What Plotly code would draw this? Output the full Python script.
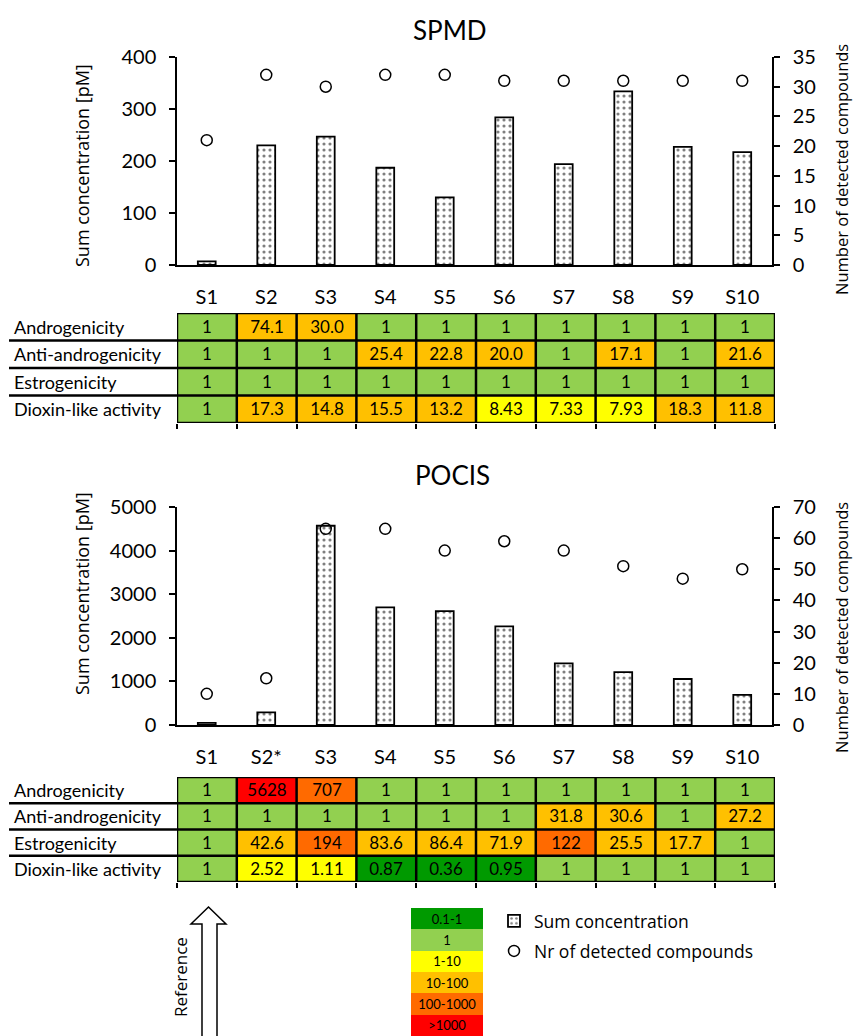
import plotly.graph_objects as go

# ---------------- data ----------------
sites_spmd = ["S1", "S2", "S3", "S4", "S5", "S6", "S7", "S8", "S9", "S10"]
sites_pocis = ["S1", "S2*", "S3", "S4", "S5", "S6", "S7", "S8", "S9", "S10"]

spmd_sum_conc = [7, 230, 247, 187, 130, 284, 194, 334, 227, 217]
spmd_n_compounds = [21, 32, 30, 32, 32, 31, 31, 31, 31, 31]

pocis_sum_conc = [50, 290, 4570, 2700, 2610, 2260, 1415, 1215, 1055, 690]
pocis_n_compounds = [10, 15, 63, 63, 56, 59, 56, 51, 47, 50]

endpoints = ["Androgenicity", "Anti-androgenicity", "Estrogenicity", "Dioxin-like activity"]

spmd_table = [
    ["1", "74.1", "30.0", "1", "1", "1", "1", "1", "1", "1"],
    ["1", "1", "1", "25.4", "22.8", "20.0", "1", "17.1", "1", "21.6"],
    ["1", "1", "1", "1", "1", "1", "1", "1", "1", "1"],
    ["1", "17.3", "14.8", "15.5", "13.2", "8.43", "7.33", "7.93", "18.3", "11.8"],
]
pocis_table = [
    ["1", "5628", "707", "1", "1", "1", "1", "1", "1", "1"],
    ["1", "1", "1", "1", "1", "1", "31.8", "30.6", "1", "27.2"],
    ["1", "42.6", "194", "83.6", "86.4", "71.9", "122", "25.5", "17.7", "1"],
    ["1", "2.52", "1.11", "0.87", "0.36", "0.95", "1", "1", "1", "1"],
]

class_labels = ["0.1-1", "1", "1-10", "10-100", "100-1000", ">1000"]
class_colors = ["#009A00", "#92D050", "#FFFF00", "#FFC000", "#FF6A00", "#FF0000"]

# ---------------- helpers ----------------
W, H = 854, 1036
def px(x):
    return x / W
def py(y):
    return 1 - y / H

def level(v):
    if v < 1:
        return 0
    if v == 1:
        return 1
    if v <= 10:
        return 2
    if v <= 100:
        return 3
    if v <= 1000:
        return 4
    return 5

n = len(class_colors)
colorscale = []
for i, c in enumerate(class_colors):
    colorscale.append([i / n, c])
    colorscale.append([(i + 1) / n, c])

FONT = "Lato, Carlito, Calibri, sans-serif"
FONT2 = "Open Sans, sans-serif"

fig = go.Figure()

bar_style = dict(
    color="white",
    line=dict(color="black", width=1.8),
    pattern=dict(shape=".", fgcolor="black", bgcolor="white", size=6, solidity=0.22),
)
circ_style = dict(symbol="circle-open", size=11, color="black", line=dict(color="black", width=1.5))

# SPMD
fig.add_trace(go.Bar(x=sites_spmd, y=spmd_sum_conc, xaxis="x", yaxis="y", width=0.3,
                     marker=bar_style, name="Sum concentration", showlegend=True, legend="legend"))
fig.add_trace(go.Scatter(x=sites_spmd, y=spmd_n_compounds, xaxis="x", yaxis="y2", mode="markers",
                         marker=circ_style, name="Nr of detected compounds", showlegend=True, legend="legend2"))
# POCIS
fig.add_trace(go.Bar(x=sites_pocis, y=pocis_sum_conc, xaxis="x3", yaxis="y3", width=0.3,
                     marker=bar_style, name="Sum concentration", showlegend=False))
fig.add_trace(go.Scatter(x=sites_pocis, y=pocis_n_compounds, xaxis="x3", yaxis="y4", mode="markers",
                         marker=circ_style, name="Nr of detected compounds", showlegend=False))

# tables as heatmaps
def table_trace(tbl, xa, ya):
    z = [[level(float(v)) for v in row] for row in tbl]
    return go.Heatmap(z=z, text=tbl, texttemplate="%{text}", textfont=dict(family=FONT, size=17, color="black"),
                      x=list(range(len(tbl[0]))), y=list(range(len(tbl))),
                      zmin=-0.5, zmax=n - 0.5, colorscale=colorscale, showscale=False,
                      hoverinfo="skip", xaxis=xa, yaxis=ya, showlegend=False)

fig.add_trace(table_trace(spmd_table, "x5", "y5"))
fig.add_trace(table_trace(pocis_table, "x6", "y6"))

# colour class legend
fig.add_trace(go.Heatmap(z=[[i] for i in range(n)], text=[[t] for t in class_labels], texttemplate="%{text}",
                         textfont=dict(family=FONT, size=13, color="black"),
                         x=[0], y=list(range(n)), zmin=-0.5, zmax=n - 0.5, colorscale=colorscale,
                         showscale=False, hoverinfo="skip", xaxis="x7", yaxis="y7", showlegend=False))

# ---------------- axes ----------------
xdom = [px(177), px(772)]
cat_axis = dict(type="category", domain=xdom, range=[-0.5, 9.5], showline=True, linewidth=2,
                linecolor="black", ticks="", showgrid=False, zeroline=False, automargin=False,
                tickfont=dict(family=FONT, size=20, color="black"), ticklabelstandoff=13)
yl = dict(showline=True, linewidth=1.5, linecolor="black", ticks="outside", ticklen=6, tickwidth=1.5,
          tickcolor="black", showgrid=False, zeroline=False, automargin=False,
          tickfont=dict(family=FONT, size=20, color="black"), ticklabelstandoff=9)

spmd_y = [py(265), py(57)]
pocis_y = [py(725), py(507)]

tbl_x = [px(177), px(775)]
spmd_ty = [py(423), py(313)]
pocis_ty = [py(882), py(777)]

def tbl_xaxis(anchor):
    return dict(domain=tbl_x, range=[-0.5, 9.5], anchor=anchor, showgrid=False, zeroline=False,
                showticklabels=False, ticks="outside", ticklen=5, tickwidth=1.5, tickcolor="black",
                tickvals=[i - 0.5 for i in range(11)], showline=False, fixedrange=True, automargin=False)

def tbl_yaxis(dom, anchor):
    return dict(domain=dom, range=[3.5, -0.5], anchor=anchor, visible=False, fixedrange=True, automargin=False)

legend_font = dict(family=FONT2, size=17.5, color="black")
fig.update_layout(
    width=W, height=H, autosize=False,
    margin=dict(l=0, r=0, t=0, b=0, pad=0, autoexpand=False),
    paper_bgcolor="white", plot_bgcolor="white",
    xaxis=dict(cat_axis, anchor="y"),
    yaxis=dict(yl, domain=spmd_y, range=[0, 400], dtick=100, anchor="x"),
    yaxis2=dict(yl, overlaying="y", side="right", range=[0, 35], dtick=5, anchor="x"),
    xaxis3=dict(cat_axis, anchor="y3"),
    yaxis3=dict(yl, domain=pocis_y, range=[0, 5000], dtick=1000, anchor="x3"),
    yaxis4=dict(yl, overlaying="y3", side="right", range=[0, 70], dtick=10, anchor="x3"),
    xaxis5=tbl_xaxis("y5"),
    yaxis5=tbl_yaxis(spmd_ty, "x5"),
    xaxis6=tbl_xaxis("y6"),
    yaxis6=tbl_yaxis(pocis_ty, "x6"),
    xaxis7=dict(domain=[px(411), px(483)], range=[-0.5, 0.5], anchor="y7", visible=False,
                fixedrange=True, automargin=False),
    yaxis7=dict(domain=[0, py(908)], range=[5.5, -0.5], anchor="x7", visible=False,
                fixedrange=True, automargin=False),
    legend=dict(x=px(494), y=py(921), xanchor="left", yanchor="middle", bgcolor="rgba(0,0,0,0)",
                font=legend_font, itemwidth=30),
    legend2=dict(x=px(494), y=py(951), xanchor="left", yanchor="middle", bgcolor="rgba(0,0,0,0)",
                 font=legend_font, itemwidth=30),
    showlegend=True,
)

# ---------------- shapes ----------------
shapes = []
for xa, ya in (("x5", "y5"), ("x6", "y6")):
    for i in range(len(sites_spmd) + 1):
        shapes.append(dict(type="line", xref=xa, yref=ya, x0=i - 0.5, x1=i - 0.5, y0=-0.5, y1=3.5,
                           line=dict(color="black", width=2.5)))
    for j in range(len(endpoints) + 1):
        shapes.append(dict(type="line", xref=xa, yref=ya, x0=-0.5, x1=9.5, y0=j - 0.5, y1=j - 0.5,
                           line=dict(color="black", width=2.5)))
    for j in range(1, len(endpoints)):
        shapes.append(dict(type="line", xref="paper", yref=ya, x0=px(9), x1=px(177), y0=j - 0.5, y1=j - 0.5,
                           line=dict(color="black", width=2.5)))

# reference arrow
pts = [(208.5, 907), (191, 924), (202, 924), (202, 1040), (217, 1040), (217, 924), (226, 924)]
path = "M " + " L ".join(f"{px(x):.5f},{py(y):.5f}" for x, y in pts) + " Z"
shapes.append(dict(type="path", xref="paper", yref="paper", path=path,
                   line=dict(color="black", width=1.5), fillcolor="white"))
fig.update_layout(shapes=shapes)

# ---------------- annotations ----------------
def note(text, x, y, size, family=FONT, angle=0, xanchor="center", yref="paper"):
    return dict(text=text, x=x, y=y, xref="paper", yref=yref, showarrow=False, textangle=angle,
                xanchor=xanchor, yanchor="middle", font=dict(family=family, size=size, color="black"))

ann = [
    note("SPMD", px(450), py(30), 26),
    note("POCIS", px(452), py(475), 26),
    note("Sum concentration [pM]", px(82), py(166), 18, FONT2, -90),
    note("Sum concentration [pM]", px(82), py(594), 18, FONT2, -90),
    note("Number of detected compounds", px(841), py(170), 16.5, FONT2, -90),
    note("Number of detected compounds", px(841), py(628), 16.5, FONT2, -90),
    note("Reference", px(180), py(977), 17, FONT2, -90),
]
for ya in ("y5", "y6"):
    for j, name in enumerate(endpoints):
        ann.append(note(name, px(12), j, 18, FONT, 0, "left", ya))
fig.update_layout(annotations=ann)

fig.write_html("out.html", config={"displayModeBar": False},
               post_script="document.body.style.margin='0';document.body.style.overflow='hidden';")
